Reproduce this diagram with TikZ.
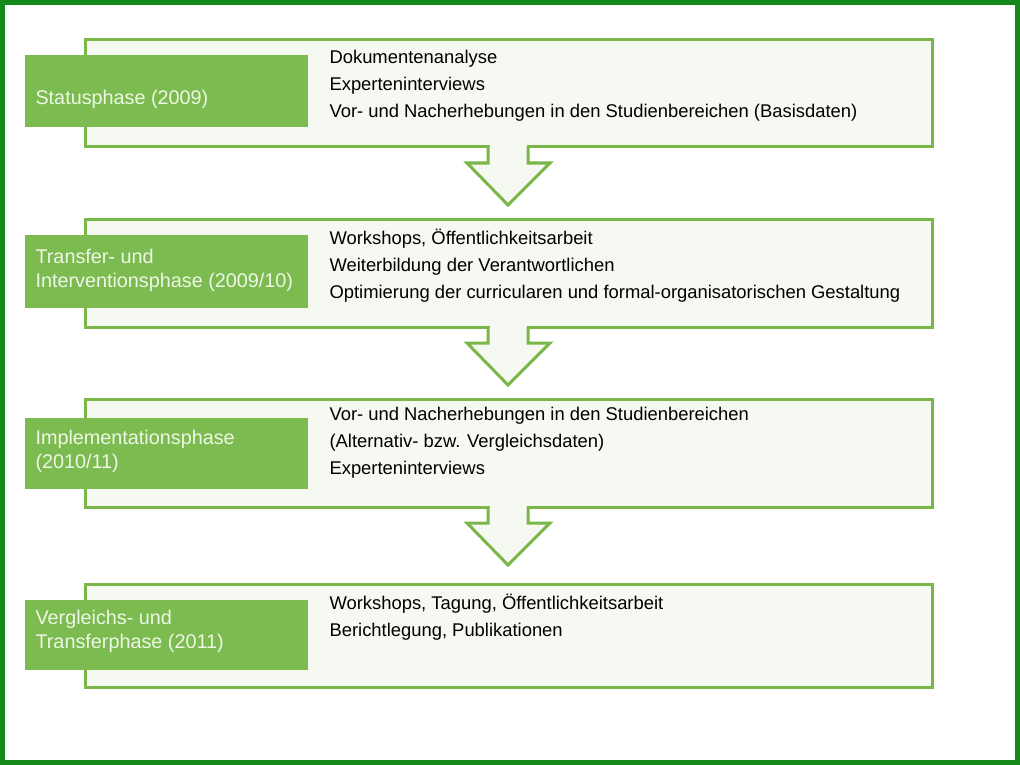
\documentclass[tikz,border=0pt]{standalone}
\usepackage{fontspec}
\setmainfont{Liberation Sans}
\definecolor{frameg}{HTML}{14891A}
\definecolor{boxg}{HTML}{7AB648}
\definecolor{boxfill}{HTML}{F6F9F1}
\definecolor{labg}{HTML}{7CBB4F}
\definecolor{labtxt}{HTML}{EEF7E6}
\begin{document}
\begin{tikzpicture}[x=1pt,y=-1pt,
  phasebox/.style={draw=boxg,line width=3pt,fill=boxfill},
  labtext/.style={anchor=west,text=labtxt,font=\fontsize{19.8}{24}\selectfont,align=left},
  itemtext/.style={anchor=west,text=black,font=\fontsize{18.4}{27}\selectfont,align=left},
  arrowshape/.style={draw=boxg,line width=3pt,fill=boxfill,line join=miter}]
\useasboundingbox (0,0) rectangle (1020,765);
\fill[white] (0,0) rectangle (1020,765);
\draw[frameg,line width=5pt] (2.5,2.5) rectangle (1017.5,762.5);
\foreach \t/\b [count=\i] in {40/147,219/327,399/507,584/687}{
  \draw[phasebox] (85,\t) rectangle (932,\b);
}
\foreach \t in {147,327,507}{
  \fill[boxfill] (489.5,{\t-3}) rectangle (526.5,{\t+2});
  \draw[arrowshape] (488,\t) -- (488,{\t+16}) -- (467,{\t+16}) -- (508,{\t+58}) -- (550,{\t+16}) -- (528,{\t+16}) -- (528,\t);
}
\fill[labg] (25,55) rectangle (308,127);
\fill[labg] (25,235) rectangle (308,308);
\fill[labg] (25,418) rectangle (308,489);
\fill[labg] (25,600) rectangle (308,670);
\node[labtext] (l1) at (32,99) {Statusphase (2009)};
\node[labtext] (l2) at (32,270) {Transfer- und\\Interventionsphase (2009/10)};
\node[labtext] (l3) at (32,451) {Implementationsphase\\(2010/11)};
\node[labtext] (l4) at (32,631) {Vergleichs- und\\Transferphase (2011)};
\node[itemtext] (t1) at (326,86) {Dokumentenanalyse\\Experteninterviews\\Vor- und Nacherhebungen in den Studienbereichen (Basisdaten)};
\node[itemtext] (t2) at (326,266) {Workshops, Öffentlichkeitsarbeit\\Weiterbildung der Verantwortlichen\\Optimierung der curricularen und formal-organisatorischen Gestaltung};
\node[itemtext] (t3) at (326,443) {Vor- und Nacherhebungen in den Studienbereichen\\(Alternativ- bzw. Vergleichsdaten)\\Experteninterviews};
\node[itemtext] (t4) at (326,617) {Workshops, Tagung, Öffentlichkeitsarbeit\\Berichtlegung, Publikationen};
\end{tikzpicture}
\end{document}
